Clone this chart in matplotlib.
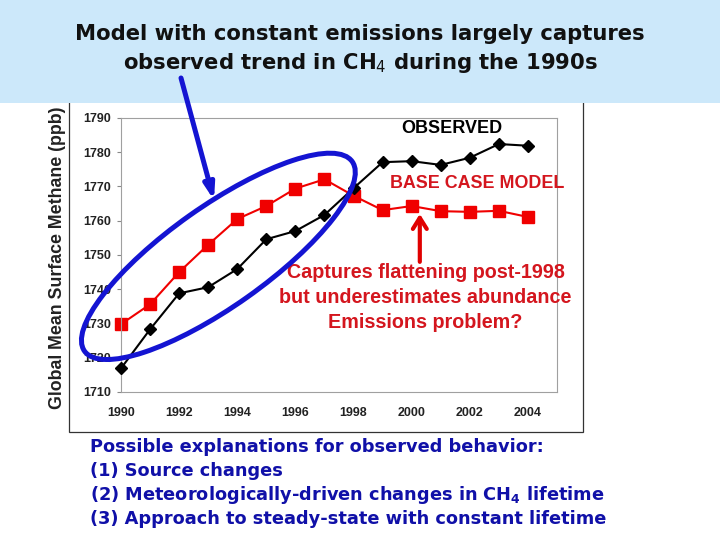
import matplotlib

matplotlib.use("Agg")
import matplotlib.pyplot as plt
from matplotlib.patches import Ellipse, Rectangle
from matplotlib.transforms import ScaledTranslation

years = list(range(1990, 2005))
observed = [1716.9, 1728.3, 1738.8, 1740.6, 1745.9, 1754.6, 1757.0, 1761.7,
            1769.5, 1777.1, 1777.4, 1776.3, 1778.4, 1782.4, 1781.9]
base_case = [1729.8, 1735.6, 1745.0, 1753.0, 1760.5, 1764.3, 1769.4, 1772.1,
             1767.3, 1763.1, 1764.3, 1762.8, 1762.6, 1762.9, 1761.1]
x_ticks = list(range(1990, 2005, 2))
y_ticks = list(range(1710, 1791, 10))

title_lines = ["Model with constant emissions largely captures",
               r"observed trend in CH$_4$ during the 1990s"]
notes = ["Possible explanations for observed behavior:",
         "(1) Source changes",
         r"(2) Meteorologically-driven changes in CH$_\mathbf{4}$ lifetime",
         "(3) Approach to steady-state with constant lifetime"]

RED = "#f00000"
RED_TXT = "#d4161e"
BLUE = "#1414d2"

fig = plt.figure(figsize=(7.2, 5.4), dpi=100)
W, H = 720, 540

# bandeau du titre + cadre de la zone graphique
fig.patches.append(Rectangle((0, 1 - 103 / H), 1, 103 / H, transform=fig.transFigure,
                             facecolor="#cce8fa", edgecolor="none", zorder=-1))
fig.patches.append(Rectangle((69 / W, 1 - 432 / H), (583 - 69) / W, (432 - 95) / H,
                             transform=fig.transFigure, facecolor="none",
                             edgecolor="#333333", linewidth=0.9, zorder=-2))

for i, line in enumerate(title_lines):
    fig.text(0.5, 1 - (34 + 29 * i) / H, line, ha="center", va="center",
             fontsize=15.2, fontweight="bold", family="DejaVu Sans", color="#111111")

for i, line in enumerate(notes):
    fig.text(90 / W, 1 - (447 + 24 * i) / H, line, ha="left", va="center",
             fontsize=12.8, fontweight="bold", family="DejaVu Sans", color="#1010a8")

ax = fig.add_axes([121 / W, 1 - 392 / H, (557 - 121) / W, (392 - 118) / H])
ax.plot(years, observed, color="black", linewidth=1.5, marker="D", markersize=6,
        clip_on=False, zorder=3)
ax.plot(years, base_case, color=RED, linewidth=1.5, marker="s", markersize=8.5,
        clip_on=False, zorder=2)

ax.set_xlim(1990, 2005)
ax.set_ylim(1710, 1790)
ax.set_xticks(x_ticks)
ax.set_yticks(y_ticks)
ax.tick_params(axis="x", length=0, pad=11)
ax.tick_params(axis="y", length=3, pad=4, color="#888888")
for lab in ax.get_xticklabels() + ax.get_yticklabels():
    lab.set_fontfamily("Liberation Sans")
    lab.set_fontweight("bold")
    lab.set_fontsize(9)
    lab.set_color("#222222")
for s in ax.spines.values():
    s.set_color("#a0a0a0")
    s.set_linewidth(0.8)

fig.text(57 / W, 1 - 258 / H, "Global Mean Surface Methane (ppb)", rotation=90,
         ha="center", va="center", fontsize=12.8, fontweight="bold",
         family="Liberation Sans", color="#222222")

ax.text(2001.38, 1786.8, "OBSERVED", ha="center", va="center", fontsize=13,
        fontweight="bold", family="Liberation Sans", color="black")
ax.text(2002.26, 1771.0, "BASE CASE MODEL", ha="center", va="center", fontsize=12.9,
        fontweight="bold", family="Liberation Sans", color=RED_TXT)
ax.text(2000.48, 1737.7,
        "Captures flattening post-1998\nbut underestimates abundance\nEmissions problem?",
        ha="center", va="center", fontsize=14.2, fontweight="bold",
        family="Liberation Sans", color=RED_TXT, linespacing=1.4)

# ellipse autour de la période 1990-1997 (taille en pouces, centre en données)
ell = Ellipse((0, 0), 3.28, 1.0, angle=35.3, facecolor="none", edgecolor=BLUE,
              linewidth=3.6, clip_on=False, zorder=5,
              transform=fig.dpi_scale_trans + ScaledTranslation(1993.35, 1749.6, ax.transData))
ax.add_patch(ell)

ax.annotate("", xy=(1993.2, 1766.0), xycoords="data",
            xytext=(181 / W, 1 - 78 / H), textcoords="figure fraction",
            arrowprops=dict(arrowstyle="-|>,head_length=0.9,head_width=0.3",
                            color=BLUE, linewidth=3.6, shrinkA=0, shrinkB=0),
            annotation_clip=False, zorder=6)
ax.annotate("", xy=(2000.28, 1762.0), xytext=(2000.28, 1748.0),
            arrowprops=dict(arrowstyle="->,head_length=0.8,head_width=0.5",
                            color="#e00000", linewidth=3, shrinkA=0, shrinkB=0),
            zorder=6)

fig.savefig("out.png", dpi=100)
